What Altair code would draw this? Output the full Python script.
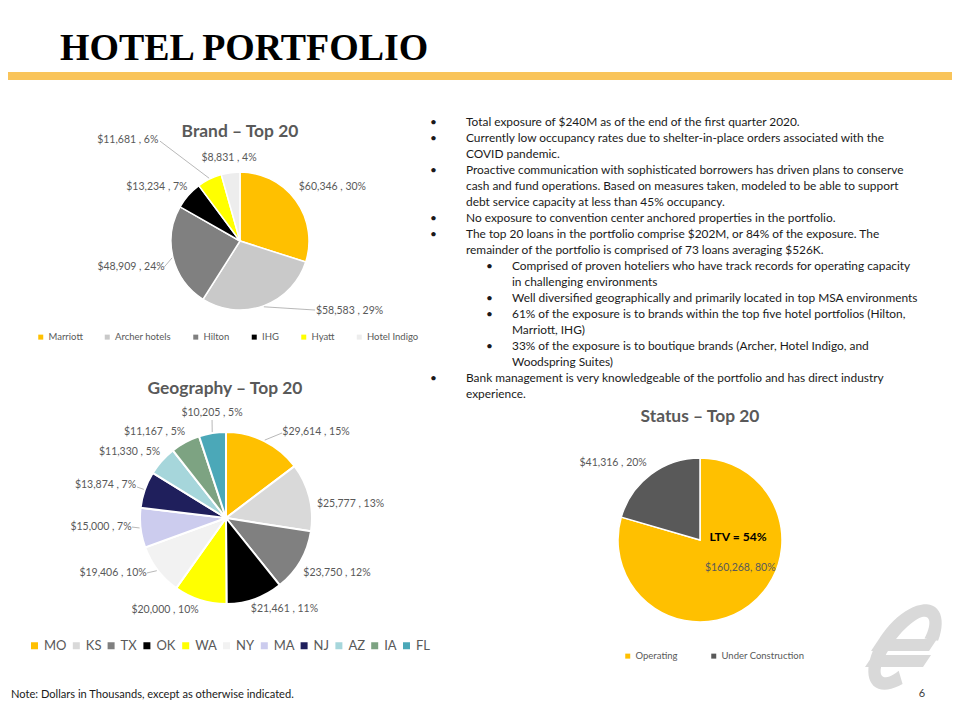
import math
import altair as alt
import pandas as pd

# ---------------- data ----------------
brand_names = ["Marriott", "Archer hotels", "Hilton", "IHG", "Hyatt", "Hotel Indigo"]
brand_values = [60346, 58583, 48909, 13234, 11681, 8831]
brand_pcts = [30, 29, 24, 7, 6, 4]

geo_names = ["MO", "KS", "TX", "OK", "WA", "NY", "MA", "NJ", "AZ", "IA", "FL"]
geo_values = [29614, 25777, 23750, 21461, 20000, 19406, 15000, 13874, 11330, 11167, 10205]
geo_pcts = [15, 13, 12, 11, 10, 10, 7, 7, 5, 5, 5]

status_names = ["Operating", "Under Construction"]
status_values = [160268, 41316]
status_pcts = [80, 20]

bullet_lines = [
    (1, True, "Total exposure of $240M as of the end of the first quarter 2020."),
    (1, True, "Currently low occupancy rates due to shelter-in-place orders associated with the"),
    (1, False, "COVID pandemic."),
    (1, True, "Proactive communication with sophisticated borrowers has driven plans to conserve"),
    (1, False, "cash and fund operations.  Based on measures taken, modeled to be able to support"),
    (1, False, "debt service capacity at less than 45% occupancy."),
    (1, True, "No exposure to convention center anchored properties in the portfolio."),
    (1, True, "The top 20 loans in the portfolio comprise $202M, or 84% of the exposure.  The"),
    (1, False, "remainder of the portfolio is comprised of 73 loans averaging $526K."),
    (2, True, "Comprised of proven hoteliers who have track records for operating capacity"),
    (2, False, "in challenging environments"),
    (2, True, "Well diversified geographically and primarily located in top MSA environments"),
    (2, True, "61% of the exposure is to brands within the top five hotel portfolios (Hilton,"),
    (2, False, "Marriott, IHG)"),
    (2, True, "33% of the exposure is to boutique brands (Archer, Hotel Indigo, and"),
    (2, False, "Woodspring Suites)"),
    (1, True, "Bank management  is very knowledgeable of the portfolio and has direct industry"),
    (1, False, "experience."),
]

# ---------------- styles / layout ----------------
OFF = 8
FONT = "Lato"
LABEL_C = "#595959"
brand_colors = ["#FFC000", "#C9C9C9", "#808080", "#000000", "#FFFF00", "#EDEDED"]
geo_colors = ["#FFC000", "#D9D9D9", "#808080", "#000000", "#FFFF00", "#F2F2F2",
              "#CCCCEE", "#1F1F5C", "#A6D6DB", "#7DA382", "#4BA8B8"]
status_colors = ["#FFC000", "#595959"]

# label anchors (angle deg from 12 o'clock, distance px) and leader end points
brand_label_polar = [(59.7, 107), (122.6, 130), (256.6, 112), (302.9, 99), (312.0, 151), (352.5, 84)]
brand_leaders = [None, (132.6, 102), (251.1, 80), None, (321.3, 128), None]
geo_label_polar = [(46.3, 124.5), (83.6, 125.3), (116.4, 123.9), (147.3, 108.2), (213.5, 110.4),
                   (244.0, 125.7), (265.9, 125.3), (285.3, 124.9), (304.4, 116.9), (320.3, 111.8),
                   (352.4, 105.9)]
geo_leaders = [(33.4, 101.8), None, None, None, None, (235.2, 96.3), (264.5, 94.4),
               (289.2, 94.2), None, None, (351.9, 99)]
status_label_polar = [(124.7, 49), (311.5, 116)]
status_leaders = [None, None]


def pie_layers(names, values, pcts, seps, colors, cx, cy, r, label_polar, leaders,
               legend, stroke_w=1.5):
    n = len(names)
    df = pd.DataFrame({"name": names, "value": values, "idx": list(range(n))})
    arc = alt.Chart(df).mark_arc(outerRadius=r, stroke="white", strokeWidth=stroke_w).encode(
        theta=alt.Theta("value:Q", stack=True),
        order=alt.Order("idx:Q"),
        color=alt.Color("name:N", scale=alt.Scale(domain=names, range=colors),
                        legend=legend, sort=names),
        x=alt.value(cx - OFF), y=alt.value(cy - OFF),
    )
    lab = pd.DataFrame({
        "label": [f"${v:,}{s}{p}%" for v, s, p in zip(values, seps, pcts)],
        "la": [a for a, d in label_polar],
        "ld": [d for a, d in label_polar],
    })
    text = alt.Chart(lab).transform_calculate(
        lx=f"{cx - OFF} + datum.ld*sin(datum.la*PI/180)",
        ly=f"{cy - OFF} - datum.ld*cos(datum.la*PI/180)",
    ).mark_text(font=FONT, fontSize=10.5, color=LABEL_C, baseline="middle", align="center").encode(
        x=alt.X("lx:Q", scale=None), y=alt.Y("ly:Q", scale=None), text="label:N")
    layers = [arc, text]
    if any(e is not None for e in leaders):
        ldf = df.assign(
            has=[e is not None for e in leaders],
            ea=[e[0] if e else 0 for e in leaders],
            ed=[e[1] if e else 0 for e in leaders],
        )
        lead = alt.Chart(ldf).transform_joinaggregate(total="sum(value)").transform_window(
            cum="sum(value)", sort=[alt.SortField("idx")], frame=[None, 0]
        ).transform_calculate(
            mid="(datum.cum - datum.value/2)/datum.total*2*PI"
        ).transform_filter("datum.has").transform_calculate(
            x1=f"{cx - OFF} + {r + 1}*sin(datum.mid)",
            y1=f"{cy - OFF} - {r + 1}*cos(datum.mid)",
            x2e=f"{cx - OFF} + datum.ed*sin(datum.ea*PI/180)",
            y2e=f"{cy - OFF} - datum.ed*cos(datum.ea*PI/180)",
        ).mark_rule(color="#A6A6A6", strokeWidth=0.8).encode(
            x=alt.X("x1:Q", scale=None), y=alt.Y("y1:Q", scale=None),
            x2="x2e:Q", y2="y2e:Q")
        layers.append(lead)
    return layers


def ann(text, x, y, **kw):
    return alt.Chart(pd.DataFrame({"t": [text]})).mark_text(**kw).encode(
        x=alt.value(x - OFF), y=alt.value(y - OFF), text="t:N")


def mk_legend(x, y, size, sym, pad, offset=3):
    return alt.Legend(orient="none", legendX=x - OFF, legendY=y - OFF, direction="horizontal",
                      title=None, symbolType="square", symbolSize=sym, symbolStrokeWidth=0,
                      labelFont=FONT, labelFontSize=size, labelColor=LABEL_C,
                      columnPadding=pad, labelOffset=offset, padding=0)


def logo_path(cx, cy, half):
    """Stylised slanted euro-like logo as a custom symbol path in [-1, 1] units."""
    u = (0.607, -0.794)  # major axis (towards top-right)
    v = (0.794, 0.607)   # minor axis

    def pt(a, b, t):
        t = math.radians(t)
        return (b * math.sin(t) * u[0] + a * math.cos(t) * v[0],
                b * math.sin(t) * u[1] + a * math.cos(t) * v[1])

    t0, t1 = 30, 322
    steps = 48
    outer = [pt(26, 50, t0 + (t1 - t0) * k / steps) for k in range(steps + 1)]
    inner = [pt(12, 37, t1 - (t1 - t0) * k / steps) for k in range(steps + 1)]
    ring = outer + inner
    bars = [
        [(879 - cx, 639 - cy), (937 - cx, 639 - cy), (929 - cx, 651 - cy), (871 - cx, 651 - cy)],
        [(873 - cx, 655 - cy), (931 - cx, 655 - cy), (923 - cx, 667 - cy), (865 - cx, 667 - cy)],
    ]

    def area(poly):
        return sum(poly[i][0] * poly[i - 1][1] - poly[i - 1][0] * poly[i][1] for i in range(len(poly)))

    polys = []
    for poly in [ring] + bars:
        if area(poly) < 0:
            poly = poly[::-1]
        polys.append(poly)
    parts = []
    for poly in polys:
        parts.append("M" + " L".join(f"{x / half:.4f},{y / half:.4f}" for x, y in poly) + " Z")
    return " ".join(parts)


layers = []

# header
layers.append(ann("HOTEL PORTFOLIO", 60, 60, font="Liberation Serif", fontWeight="bold",
                  fontSize=37.9, align="left", baseline="alphabetic", color="#000000"))
layers.append(alt.Chart(pd.DataFrame({"a": [0]})).mark_rect(color="#F9C45A").encode(
    x=alt.value(0), x2=alt.value(944), y=alt.value(72 - OFF), y2=alt.value(80 - OFF)))

# pies
layers += pie_layers(brand_names, brand_values, brand_pcts, [" , "] * 6, brand_colors,
                     240, 241, 69, brand_label_polar, brand_leaders,
                     mk_legend(36, 332, 9.5, 25, 19.5))
layers += pie_layers(geo_names, geo_values, geo_pcts, [" , "] * 11, geo_colors,
                     226, 518, 86, geo_label_polar, geo_leaders,
                     mk_legend(28, 639, 13, 49, 2.8), stroke_w=2)
layers += pie_layers(status_names, status_values, status_pcts, [", ", " , "], status_colors,
                     700, 540, 82, status_label_polar, status_leaders,
                     mk_legend(623, 651, 9.5, 25, 31))

# chart titles
for t, x, y in [("Brand \u2013 Top 20", 240, 132), ("Geography \u2013 Top 20", 225, 389),
                ("Status \u2013 Top 20", 700, 417)]:
    layers.append(ann(t, x, y, font=FONT, fontWeight="bold", fontSize=17.4, color="#595959",
                      align="center", baseline="middle"))
layers.append(ann("LTV = 54%", 738, 537, font=FONT, fontWeight="bold", fontSize=12.1,
                  color="#000000", align="center", baseline="middle"))

# bullet text
rows = []
for i, (lvl, is_b, txt) in enumerate(bullet_lines):
    y = 122 + 16 * i - OFF
    tx = (466 if lvl == 1 else 512) - OFF
    bx = (430 if lvl == 1 else 486) - OFF
    rows.append({"x": tx, "y": y, "t": txt})
    if is_b:
        rows.append({"x": bx, "y": y, "t": "\u2022"})
tdf = pd.DataFrame(rows)
layers.append(alt.Chart(tdf).mark_text(font=FONT, fontSize=11.9, color="#1A1A1A", align="left",
                                       baseline="middle").encode(
    x=alt.X("x:Q", scale=None), y=alt.Y("y:Q", scale=None), text="t:N"))

# footer
layers.append(ann("Note: Dollars in Thousands, except as otherwise indicated.", 11, 695,
                  font=FONT, fontSize=11.1, color="#1A1A1A", align="left", baseline="middle"))
LOGO_C = (905, 647)
layers.append(alt.Chart(pd.DataFrame({"a": [0]})).mark_point(
    shape=logo_path(LOGO_C[0], LOGO_C[1], 50), size=10000, filled=True, color="#D9D9D9",
    opacity=1, strokeWidth=0).encode(x=alt.value(LOGO_C[0] - OFF), y=alt.value(LOGO_C[1] - OFF)))
layers.append(ann("6", 922, 694, font=FONT, fontSize=11, color="#404040", align="center",
                  baseline="middle"))

chart = alt.layer(*layers).resolve_scale(color="independent", theta="independent").properties(
    width=944, height=704, padding=0, autosize=alt.AutoSizeParams(type="none"),
    background="white"
).configure_view(stroke=None)

chart.save("out.html", embed_options={"renderer": "svg", "actions": False})
